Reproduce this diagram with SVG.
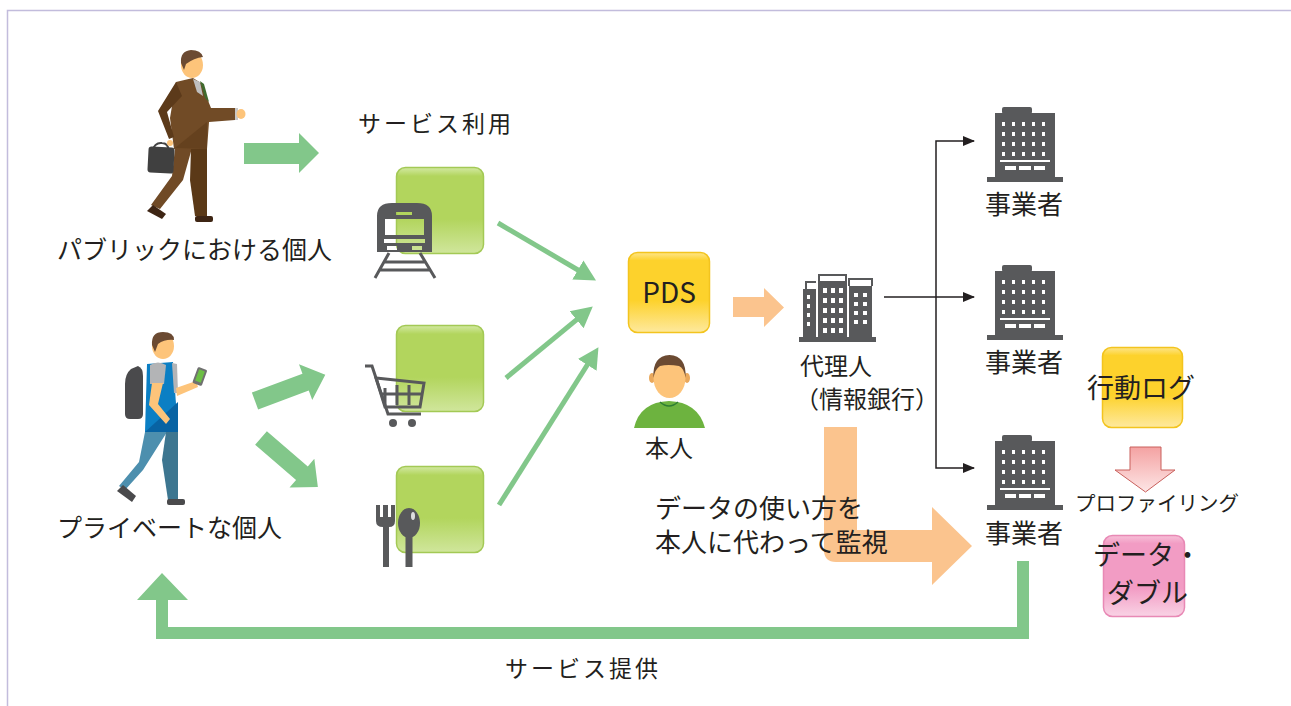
<svg xmlns="http://www.w3.org/2000/svg" width="1291" height="706" viewBox="0 0 1291 706">
  <style>
    .t { font-family: "Noto Sans CJK JP", "Noto Sans", sans-serif; fill: #231f20; }
    .icon { fill: #58595b; }
    .win { fill: #ffffff; }
    .green { fill: #82c78a; }
    .orange { fill: #fbc48e; }
    .conn { stroke: #231f20; stroke-width: 1.5; fill: none; }
    .thin { stroke: #82c78a; stroke-width: 5; fill: none; }
  </style>
  <defs>
    <linearGradient id="gBox" x1="0" y1="0" x2="0" y2="1">
      <stop offset="0" stop-color="#d3e9a3"/>
      <stop offset="0.1" stop-color="#b2d55d"/>
      <stop offset="0.6" stop-color="#b2d55d"/>
      <stop offset="1" stop-color="#d0e69c"/>
    </linearGradient>
    <linearGradient id="yBox" x1="0" y1="0" x2="0" y2="1">
      <stop offset="0" stop-color="#fee58a"/>
      <stop offset="0.1" stop-color="#fdd22c"/>
      <stop offset="0.6" stop-color="#fdd22c"/>
      <stop offset="1" stop-color="#fee99e"/>
    </linearGradient>
    <linearGradient id="pBox" x1="0" y1="0" x2="0" y2="1">
      <stop offset="0" stop-color="#f7c0d8"/>
      <stop offset="0.1" stop-color="#f29cc4"/>
      <stop offset="0.65" stop-color="#f29cc4"/>
      <stop offset="1" stop-color="#f9d3e5"/>
    </linearGradient>
    <linearGradient id="pArrow" x1="0" y1="0" x2="0" y2="1">
      <stop offset="0" stop-color="#f4a2a2"/>
      <stop offset="1" stop-color="#fde6e6"/>
    </linearGradient>
    <marker id="gHead" markerUnits="userSpaceOnUse" markerWidth="22" markerHeight="24" refX="10" refY="12" orient="auto" viewBox="0 0 22 24">
      <path d="M0,1 L21,12 L0,23 Z" fill="#82c78a"/>
    </marker>
    <marker id="kHead" markerUnits="userSpaceOnUse" markerWidth="12" markerHeight="10" refX="11" refY="5" orient="auto" viewBox="0 0 12 10">
      <path d="M0,0 L12,5 L0,10 Z" fill="#231f20"/>
    </marker>
    <!-- office building used for each 事業者 -->
    <g id="office">
      <rect x="15" y="0" width="30" height="7" rx="2" class="icon"/>
      <rect x="8" y="6" width="60" height="66" class="icon"/>
      <rect x="0" y="70" width="76" height="5" class="icon"/>
      <g class="win">
        <rect x="15" y="15" width="3" height="4"/><rect x="25" y="15" width="3" height="4"/><rect x="35" y="15" width="3" height="4"/><rect x="45" y="15" width="3" height="4"/><rect x="55" y="15" width="3" height="4"/>
        <rect x="15" y="25" width="3" height="4"/><rect x="25" y="25" width="3" height="4"/><rect x="35" y="25" width="3" height="4"/><rect x="45" y="25" width="3" height="4"/><rect x="55" y="25" width="3" height="4"/>
        <rect x="15" y="35" width="3" height="4"/><rect x="25" y="35" width="3" height="4"/><rect x="35" y="35" width="3" height="4"/><rect x="45" y="35" width="3" height="4"/><rect x="55" y="35" width="3" height="4"/>
        <rect x="15" y="45" width="3" height="4"/><rect x="25" y="45" width="3" height="4"/><rect x="35" y="45" width="3" height="4"/><rect x="45" y="45" width="3" height="4"/><rect x="55" y="45" width="3" height="4"/>
        <rect x="13" y="53" width="50" height="2"/>
        <rect x="18" y="59" width="11" height="4"/><rect x="32" y="59" width="12" height="4"/><rect x="47" y="59" width="11" height="4"/>
      </g>
    </g>
  </defs>

  <!-- page frame -->
  <path d="M7.5,706 V10.5 H1291" fill="none" stroke="#c2bcdc" stroke-width="1.5"/>

  <!-- connectors -->
  <g id="connectors">
    <!-- user to services -->
    <path class="green" d="M244,143 H299 V133 L319,153 L299,173 V164 H244 Z"/>
    <path class="green" transform="translate(255,401) rotate(-20.4)" d="M0,-9 H54 V-19 L75,0 L54,19 V9 H0 Z"/>
    <path class="green" transform="translate(261,438) rotate(40.7)" d="M0,-9 H54 V-19 L75,0 L54,19 V9 H0 Z"/>
    <!-- services to PDS -->
    <line class="thin" x1="498" y1="223" x2="586.5" y2="275" marker-end="url(#gHead)"/>
    <line class="thin" x1="506" y1="378" x2="584.3" y2="313.4" marker-end="url(#gHead)"/>
    <line class="thin" x1="499" y1="505" x2="592.6" y2="356.5" marker-end="url(#gHead)"/>
    <!-- PDS to agent -->
    <path class="orange" d="M733,297 H764 V288 L784,307.5 L764,327 V317 H733 Z"/>
    <!-- agent to businesses -->
    <path class="conn" d="M884,297 H974" marker-end="url(#kHead)"/>
    <path class="conn" d="M936,297 V141 H974" marker-end="url(#kHead)"/>
    <path class="conn" d="M936,297 V468 H974" marker-end="url(#kHead)"/>
    <!-- monitoring arrow -->
    <path class="orange" d="M824,427 H857 V530 H932 V507 L972,546 L932,585 V562 H836 Q824,562 824,550 Z"/>
    <!-- profiling arrow -->
    <path d="M1130,447 H1161 V470 H1175 L1145.5,492 L1115,470 H1130 Z" fill="url(#pArrow)" stroke="#c9605c" stroke-width="1"/>
    <!-- service provision loop -->
    <path class="green" d="M1017,561 H1029 V639 H156 V600 H137 L162,573 L188,600 H168 V627 H1017 Z"/>
  </g>

  <!-- public individual -->
  <g id="public-person">
    <path d="M175,148 H192 L183,180 L160,209 L151,205 L172,176 Z" fill="#704a26"/>
    <path d="M191,148 H207 V216 H195 L190,180 Z" fill="#5b3917"/>
    <path d="M147,211 L153,205 L166,214 L162,219 Z" fill="#3e2514"/>
    <rect x="195" y="216" width="18" height="6" rx="2" fill="#3e2514"/>
    <path d="M176,82 L193,78 L201,83 L211,108 L235,108 V120 L209,122 L207,149 H174 L170,118 Z" fill="#714b26"/>
    <path d="M176,82 L158,111 L169,139 L174,137 L167,112 L182,96 Z" fill="#5c3a1a"/>
    <path d="M175,148 L207,122 V149 Z" fill="#5d3b19" opacity="0.6"/>
    <path d="M193,79 L200,82 L203,96 L197,92 Z" fill="#bfbfbf"/>
    <path d="M200,81 L204,84 L209,102 L205,98 Z" fill="#3f6a2e"/>
    <rect x="235" y="108" width="3" height="12" fill="#c8c8c8"/>
    <ellipse cx="241" cy="114" rx="4.5" ry="5" fill="#fdc47a"/>
    <path d="M152,151 Q155,142 162,143 Q168,143 169,151" fill="none" stroke="#444" stroke-width="2"/>
    <rect x="148" y="147" width="26" height="26" rx="3" fill="#404040" transform="rotate(3 161 160)"/>
    <circle cx="170" cy="143" r="3" fill="#fdc47a"/>
    <ellipse cx="192" cy="65" rx="11" ry="13" fill="#fdc47a"/>
    <path d="M181,63 Q180,51 191,50 Q201,50 203,57 Q194,58 186,64 L184,70 Z" fill="#6b4a32"/>
    <text class="t" x="57" y="259" font-size="25">パブリックにおける個人</text>
  </g>

  <!-- private individual -->
  <g id="private-person">
    <path d="M125,414 V384 Q125,374 131,369 L138,366 Q143,368 143,376 V414 Q143,419 138,419 H130 Q125,419 125,414 Z" fill="#4a4a4c"/>
    <path d="M145,432 H167 L143,470 L125,490 L119,486 L139,462 Z" fill="#4d8fae"/>
    <path d="M166,432 H178 V500 H168 L162,460 Z" fill="#3d7690"/>
    <path d="M117,491 L123,485 L136,496 L132,502 Z" fill="#4a4a4c"/>
    <rect x="167" y="499" width="18" height="6" rx="2" fill="#4a4a4c"/>
    <path d="M147,364 L173,362 L178,432 L145,432 Z" fill="#0b7fc4"/>
    <path d="M145,432 L178,402 L178,432 Z" fill="#0863a3"/>
    <path d="M150,365 Q158,360 166,365 L164,384 L150,384 Z" fill="#b3b4b6"/>
    <path d="M172,363 L177,364 L178,393 L174,393 Z" fill="#b3b4b6"/>
    <path d="M152,383 L163,383 L158,404 L170,419 L166,424 L149,405 Z" fill="#fdc47a"/>
    <path d="M176,388 L196,381 L198,387 L177,396 Z" fill="#fdc47a"/>
    <rect x="195" y="368" width="10" height="17" rx="1.5" fill="#707070" transform="rotate(20 200 376)"/>
    <rect x="197" y="370" width="6" height="12" fill="#6cbf45" transform="rotate(20 200 376)"/>
    <ellipse cx="163" cy="346" rx="11" ry="13" fill="#fdc47a"/>
    <path d="M152,345 Q151,332 163,332 Q174,332 174,340 Q165,339 158,344 L155,352 Z" fill="#6b4a32"/>
    <text class="t" x="57" y="537" font-size="25">プライベートな個人</text>
  </g>

  <text class="t" x="358" y="132" font-size="23" letter-spacing="3">サービス利用</text>

  <!-- train service -->
  <g id="svc-train">
    <rect x="396.5" y="167.5" width="87" height="86" rx="9" fill="url(#gBox)" stroke="#a3c955" stroke-width="1.5"/>
    <path class="icon" d="M377,252 V216 Q377,203 392,203 H417 Q432,203 432,216 V252 Z M385,219 V235 H424 V219 Z M396,212 H412 V215 H396 Z M384,239 V243 H425 V239 Z M387,246 V250 H397 V246 Z M412,246 V250 H422 V246 Z" fill-rule="evenodd"/>
    <path d="M389,253 L375,278 M420,253 L435,278 M384,262 H425 M380,270 H430" stroke="#58595b" stroke-width="3" fill="none"/>
  </g>

  <!-- shopping service -->
  <g id="svc-shop">
    <rect x="396.5" y="325.5" width="87" height="86" rx="9" fill="url(#gBox)" stroke="#a3c955" stroke-width="1.5"/>
    <path d="M365,366 H372 L388,414 H421" stroke="#58595b" stroke-width="3" fill="none"/>
    <path d="M376,378 L424,383 L420,407 H385 Z M385,388 V405 M397,385 V405 M409,385 V405 M380,394 H421" stroke="#58595b" stroke-width="3" fill="none"/>
    <circle cx="393" cy="423" r="4" class="icon"/>
    <circle cx="412" cy="423" r="4" class="icon"/>
  </g>

  <!-- restaurant service -->
  <g id="svc-food">
    <rect x="396.5" y="466.5" width="87" height="86" rx="9" fill="url(#gBox)" stroke="#a3c955" stroke-width="1.5"/>
    <path class="icon" d="M376,505 H380 V517 H383 V505 H388 V517 H391 V505 H395 V521 Q395,527 389,527 V567 H383 V527 Q376,527 376,521 Z"/>
    <ellipse cx="409" cy="523" rx="11" ry="15" class="icon"/>
    <rect x="405.5" y="533" width="7" height="34" class="icon"/>
    <ellipse cx="413" cy="516" rx="2" ry="4" fill="#ffffff" opacity="0.8"/>
  </g>

  <!-- PDS -->
  <g id="pds">
    <rect x="628.5" y="252.5" width="81" height="80" rx="9" fill="url(#yBox)" stroke="#f3c41e" stroke-width="1.5"/>
    <text class="t" x="669" y="303" font-size="28" text-anchor="middle" font-family="Noto Sans, sans-serif">PDS</text>
  </g>

  <!-- the person -->
  <g id="self">
    <path d="M634,428 Q640,402 669,401 Q698,402 705,428 Z" fill="#6db33f"/>
    <path d="M660,402 Q669,410 678,402" fill="none" stroke="#2e7d32" stroke-width="1.5"/>
    <ellipse cx="652" cy="378" rx="3" ry="5" fill="#e9a85c"/>
    <ellipse cx="687" cy="378" rx="3" ry="5" fill="#e9a85c"/>
    <ellipse cx="669.5" cy="378" rx="16" ry="20" fill="#fdc47a"/>
    <path d="M653.5,378 Q652,356 669.5,355 Q687,356 685.5,378 Q684,368 679,366 Q668,364 660,366 Q655,369 653.5,378 Z" fill="#6b4a32"/>
    <text class="t" x="669" y="457" font-size="24" text-anchor="middle">本人</text>
  </g>

  <!-- agent (information bank) -->
  <g id="agent">
    <path d="M806,289 V282 H816 M819,282 V275 H846 V282 M849,286 V279 H872 V286" fill="none" stroke="#58595b" stroke-width="2"/>
    <rect x="803" y="289" width="13" height="49" class="icon"/>
    <rect x="818" y="281" width="29" height="57" class="icon"/>
    <rect x="849" y="286" width="23" height="52" class="icon"/>
    <rect x="799" y="337" width="77" height="5" class="icon"/>
    <g class="win">
      <rect x="807" y="295" width="3" height="4"/><rect x="807" y="304" width="3" height="4"/><rect x="807" y="313" width="3" height="4"/><rect x="807" y="322" width="3" height="4"/>
      <rect x="823" y="288" width="4" height="5"/><rect x="831" y="288" width="4" height="5"/><rect x="839" y="288" width="4" height="5"/>
      <rect x="823" y="298" width="4" height="5"/><rect x="831" y="298" width="4" height="5"/><rect x="839" y="298" width="4" height="5"/>
      <rect x="823" y="308" width="4" height="5"/><rect x="831" y="308" width="4" height="5"/><rect x="839" y="308" width="4" height="5"/>
      <rect x="823" y="318" width="4" height="5"/><rect x="831" y="318" width="4" height="5"/><rect x="839" y="318" width="4" height="5"/>
      <rect x="823" y="328" width="4" height="5"/><rect x="831" y="328" width="4" height="5"/><rect x="839" y="328" width="4" height="5"/>
      <rect x="854" y="293" width="4" height="4"/><rect x="863" y="293" width="4" height="4"/>
      <rect x="854" y="302" width="4" height="4"/><rect x="863" y="302" width="4" height="4"/>
      <rect x="854" y="311" width="4" height="4"/><rect x="863" y="311" width="4" height="4"/>
      <rect x="854" y="320" width="4" height="4"/><rect x="863" y="320" width="4" height="4"/>
    </g>
    <text class="t" x="800" y="375" font-size="24">代理人</text>
    <text class="t" x="795" y="408" font-size="24">（情報銀行）</text>
  </g>

  <text class="t" x="655" y="518" font-size="26">データの使い方を</text>
  <text class="t" x="655" y="552" font-size="26">本人に代わって監視</text>

  <!-- businesses -->
  <g id="biz-1">
    <use href="#office" x="987" y="107"/>
    <text class="t" x="1024" y="214" font-size="26" text-anchor="middle">事業者</text>
  </g>
  <g id="biz-2">
    <use href="#office" x="987" y="265"/>
    <text class="t" x="1024" y="372" font-size="26" text-anchor="middle">事業者</text>
  </g>
  <g id="biz-3">
    <use href="#office" x="987" y="435"/>
    <text class="t" x="1024" y="543" font-size="26" text-anchor="middle">事業者</text>
  </g>

  <!-- behaviour log -->
  <g id="log">
    <rect x="1102.5" y="347.5" width="80" height="80" rx="9" fill="url(#yBox)" stroke="#f3c41e" stroke-width="1.5"/>
    <text class="t" x="1087" y="398" font-size="27">行動ログ</text>
  </g>

  <text class="t" x="1075" y="511" font-size="20.5">プロファイリング</text>

  <!-- data double -->
  <g id="double">
    <rect x="1103.5" y="535.5" width="81" height="81" rx="9" fill="url(#pBox)" stroke="#e889b5" stroke-width="1.5"/>
    <text class="t" x="1093" y="565" font-size="27">データ・</text>
    <text class="t" x="1107" y="603" font-size="27">ダブル</text>
  </g>

  <text class="t" x="505" y="677" font-size="23" letter-spacing="3">サービス提供</text>
</svg>
